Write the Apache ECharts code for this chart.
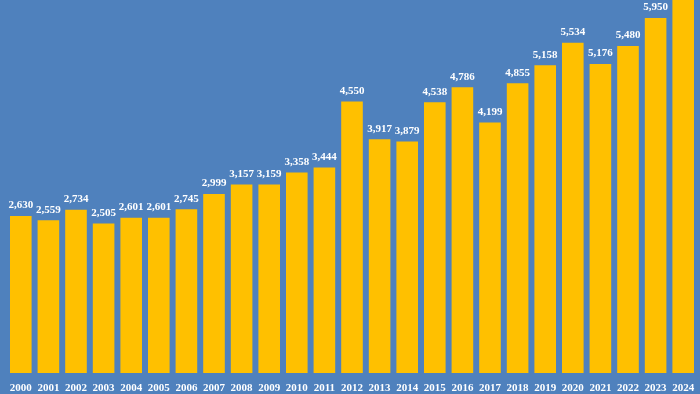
<!DOCTYPE html>
<html>
<head>
<meta charset="utf-8">
<script src="https://cdn.jsdelivr.net/npm/echarts@6/dist/echarts.min.js"></script>
<style>
html,body{margin:0;padding:0;background:#4F81BD;}
#c{width:700px;height:394px;}
</style>
</head>
<body>
<div id="c"></div>
<script>
const years = ['2000','2001','2002','2003','2004','2005','2006','2007','2008','2009','2010','2011','2012','2013','2014','2015','2016','2017','2018','2019','2020','2021','2022','2023','2024'];
const values = [2630,2559,2734,2505,2601,2601,2745,2999,3157,3159,3358,3444,4550,3917,3879,4538,4786,4199,4855,5158,5534,5176,5480,5950,6400];

const chart = echarts.init(document.getElementById('c'), null, {renderer:'canvas'});
chart.setOption({
  backgroundColor: '#4F81BD',
  animation: false,
  grid: {left: 7, right: 3, top: 0, bottom: 20, containLabel: false},
  xAxis: {
    type: 'category',
    data: years,
    axisLine: {show: false},
    axisTick: {show: false},
    axisLabel: {
      color: '#FFFFFF', fontFamily: 'Liberation Serif', fontWeight: 'bold', fontSize: 11,
      margin: 10, interval: 0
    }
  },
  yAxis: {
    type: 'value', min: 0, max: 6250,
    show: false,
    splitLine: {show: false}
  },
  series: [{
    type: 'bar',
    data: values,
    barWidth: 21.6,
    clip: false,
    itemStyle: {color: '#FFC000'},
    label: {
      show: true, position: 'top', distance: 5,
      color: '#FFFFFF', fontFamily: 'Liberation Serif', fontWeight: 'bold', fontSize: 11,
      formatter: p => p.value.toLocaleString('en-US')
    }
  }]
});
</script>
</body>
</html>
